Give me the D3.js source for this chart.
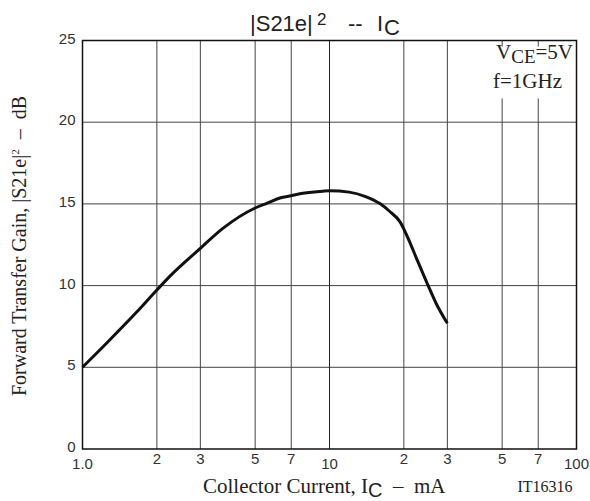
<!DOCTYPE html>
<html>
<head>
<meta charset="utf-8">
<script src="https://cdn.jsdelivr.net/npm/d3@7"></script>
<style>
  body { margin: 0; background: #fff; }
  svg { display: block; }
  svg text { white-space: pre; }
  .sans { font-family: "Liberation Sans", Arial, sans-serif; }
  .serif { font-family: "Liberation Serif", "Times New Roman", serif; }
</style>
</head>
<body>
<div id="chart"></div>
<script>
// values
const currentMA = [1, 1.2, 1.65, 2, 2.25, 3, 3.7, 5, 5.6, 6.3, 7, 7.8, 9.4, 10, 12, 14, 16, 17.5, 19.3, 21, 22.5, 25, 27, 30];
const gainDB = [5, 6.2, 8.35, 9.73, 10.55, 12.28, 13.5, 14.75, 15.05, 15.36, 15.5, 15.65, 15.78, 15.8, 15.72, 15.45, 15.02, 14.55, 13.9, 12.75, 11.67, 10.05, 8.92, 7.69];
const xGrid = [2, 3, 5, 7, 10, 20, 30, 50, 70];
const xTickVals = [1, 2, 3, 5, 7, 10, 20, 30, 50, 70, 100];
const xTickText = ["1.0", "2", "3", "5", "7", "10", "2", "3", "5", "7", "100"];
const yTicks = [0, 5, 10, 15, 20, 25];

const W = 590, H = 501;
const margin = {top: 40.5, right: 13.5, bottom: 52, left: 82.5};

const svg = d3.select("#chart").append("svg")
  .attr("width", W).attr("height", H);

const x = d3.scaleLog().domain([1, 100]).range([margin.left, W - margin.right]);
const y = d3.scaleLinear().domain([0, 25]).range([H - margin.bottom, margin.top]);

// horizontal grid
svg.append("g").selectAll("line")
  .data(yTicks.slice(1, -1))
  .join("line")
  .attr("x1", x(1)).attr("x2", x(100))
  .attr("y1", d => y(d)).attr("y2", d => y(d))
  .attr("stroke", "#444").attr("stroke-width", 1);

// vertical grid (50 and 70 broken by the condition label)
const gv = svg.append("g");
xGrid.forEach(v => {
  if (v >= 50) {
    gv.append("line").attr("x1", x(v)).attr("x2", x(v))
      .attr("y1", y(25)).attr("y2", y(25) + 6)
      .attr("stroke", "#444");
    gv.append("line").attr("x1", x(v)).attr("x2", x(v))
      .attr("y1", y(25) + 58).attr("y2", y(0))
      .attr("stroke", "#444");
  } else {
    gv.append("line").attr("x1", x(v)).attr("x2", x(v))
      .attr("y1", y(25)).attr("y2", y(0))
      .attr("stroke", v === 10 ? "#222" : "#444");
  }
});

// frame
svg.append("rect")
  .attr("x", x(1)).attr("y", y(25))
  .attr("width", x(100) - x(1)).attr("height", y(0) - y(25))
  .attr("fill", "none").attr("stroke", "#111").attr("stroke-width", 1.5);

// curve
const line = d3.line()
  .x((d, i) => x(currentMA[i]))
  .y(d => y(d))
  .curve(d3.curveMonotoneX);

svg.append("path")
  .datum(gainDB)
  .attr("d", line)
  .attr("fill", "none")
  .attr("stroke", "#111")
  .attr("stroke-width", 3)
  .attr("stroke-linejoin", "round");

// y tick labels
svg.append("g").attr("class", "sans").selectAll("text")
  .data(yTicks)
  .join("text")
  .attr("x", x(1) - 7)
  .attr("y", d => y(d) + 3)
  .attr("text-anchor", "end")
  .attr("font-size", 15)
  .attr("fill", "#333")
  .text(d => d);

// x tick labels (decades sit lower)
svg.append("g").attr("class", "sans").selectAll("text")
  .data(xTickVals)
  .join("text")
  .attr("x", d => x(d))
  .attr("y", d => [1, 10, 100].includes(d) ? y(0) + 20 : y(0) + 15)
  .attr("text-anchor", "middle")
  .attr("font-size", 15)
  .attr("fill", "#333")
  .text((d, i) => xTickText[i]);

// title
const tg = svg.append("g").attr("class", "sans").attr("fill", "#222");
tg.append("text").attr("x", 250).attr("y", 31).attr("font-size", 22).text("|S21e|");
tg.append("text").attr("x", 317).attr("y", 25).attr("font-size", 17).text("2");
tg.append("text").attr("x", 348).attr("y", 31).attr("font-size", 22).text("--");
tg.append("text").attr("x", 377).attr("y", 31).attr("font-size", 22).text("I");
tg.append("text").attr("x", 384).attr("y", 35).attr("font-size", 22).text("C");

// conditions
const cond = svg.append("g").attr("class", "serif").attr("fill", "#222");
const c1 = cond.append("text").attr("x", 573).attr("y", 59)
  .attr("text-anchor", "end").attr("font-size", 21);
c1.append("tspan").text("V");
c1.append("tspan").attr("dy", 4).attr("font-size", 19).text("CE");
c1.append("tspan").attr("dy", -4).text("=5V");
cond.append("text").attr("x", 562).attr("y", 88)
  .attr("text-anchor", "end").attr("font-size", 21).text("f=1GHz");

// x axis title
const xt = svg.append("text").attr("class", "serif")
  .attr("x", 203).attr("y", 493)
  .attr("font-size", 21).attr("fill", "#222");
xt.append("tspan").text("Collector Current, I");
xt.append("tspan").attr("class", "sans").attr("font-size", 20).attr("dy", 4).text("C");
xt.append("tspan").attr("dy", -4).text("  \u2013  mA");

svg.append("text").attr("class", "serif")
  .attr("x", 545).attr("y", 492)
  .attr("text-anchor", "middle")
  .attr("font-size", 16).attr("fill", "#222")
  .text("IT16316");

// y axis title
const yt = svg.append("text").attr("class", "serif")
  .attr("transform", "translate(26,246) rotate(-90)")
  .attr("text-anchor", "middle")
  .attr("font-size", 20).attr("fill", "#222");
yt.append("tspan").text("Forward Transfer Gain, |S21e|");
yt.append("tspan").attr("font-size", 11).attr("dy", -7).text("2");
yt.append("tspan").attr("dy", 7).text("  \u2013  dB");
</script>
</body>
</html>
